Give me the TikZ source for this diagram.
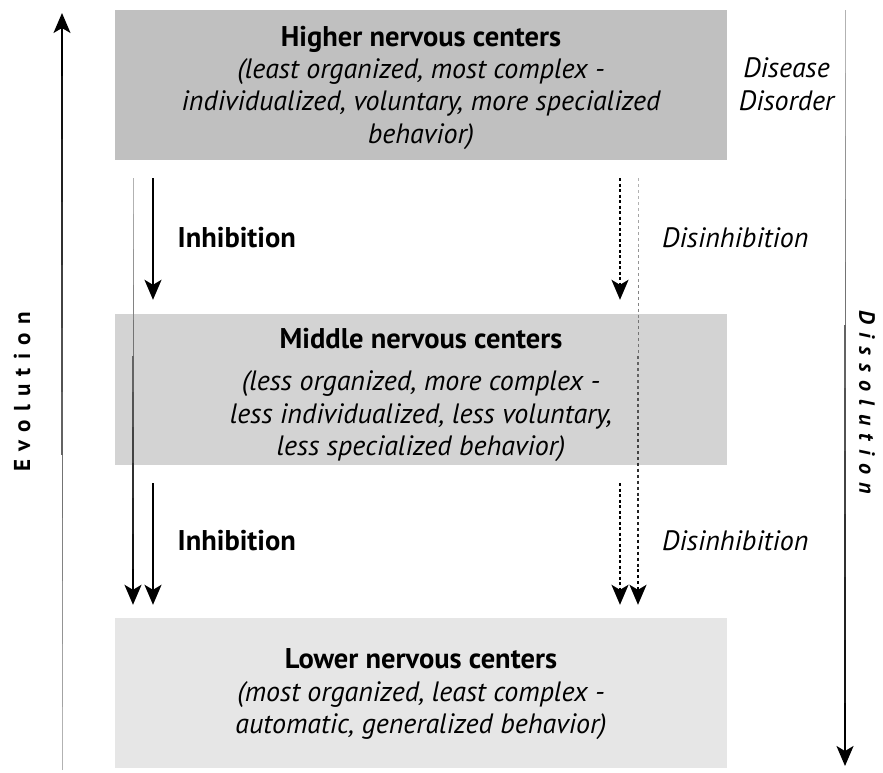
\documentclass[tikz,border=0pt]{standalone}
\usepackage{fontspec}
\setmainfont{PT Sans}
\usetikzlibrary{arrows.meta,calc}
\definecolor{topgray}{HTML}{C0C0C0}
\definecolor{midgray}{HTML}{D3D3D3}
\definecolor{lowgray}{HTML}{E6E6E6}
\newcommand\titlefont{\fontsize{28.5}{32}\selectfont\upshape\bfseries}
\tikzset{
  levelbox/.style={fill=#1, draw=none, minimum width=612pt, minimum height=150pt, inner sep=0pt},
  % anchored at the baseline of the last line
  leveltext/.style={align=center, inner sep=0pt, anchor=base,
    font=\fontsize{28}{32.3}\selectfont\itshape},
  tipped/.style={-{Stealth[length=20pt,width=17pt,inset=5pt]}, line width=2pt},
  dotarrow/.style={tipped, dash pattern=on 3pt off 2.5pt},
  sidelabel/.style={anchor=base west, inner sep=0pt},
  axislabel/.style={inner sep=0pt},
}
% a line that grows darker and wider from #1 to #2 and ends in a tip; #3 = extra options
\newcommand\taperarrow[3]{%
  \foreach \i [evaluate=\i as \c using int(30+6.4*\i),
               evaluate=\i as \w using 0.3+0.155*\i,
               evaluate=\i as \fa using \i/12,
               evaluate=\i as \fb using \i/12+1/12] in {0,...,10}{%
    \draw[line width=\w pt, draw=black!\c, #3]
      ($(#1)!\fa!(#2)$) -- ($(#1)!\fb!(#2)$);
  }%
  \draw[tipped, #3] ($(#1)!0.9167!(#2)$) -- (#2);
}
\begin{document}
\begin{tikzpicture}[x=1pt, y=-1pt]
  \useasboundingbox (0,0) rectangle (883,772);

  % the three levels
  \node[levelbox=topgray] (high) at (421,85) {};
  \node[levelbox=midgray, minimum height=151pt] (mid) at (421,389.5) {};
  \node[levelbox=lowgray] (low) at (421,693) {};

  \node[leveltext] (highT) at (421,143)
    {{\titlefont Higher nervous centers}\\
     (least organized, most complex -\\
     individualized, voluntary, more specialized\\
     behavior)};
  \node[leveltext] (midT) at (421,455.5)
    {{\titlefont Middle nervous centers}\\[10pt]
     (less organized, more complex -\\
     less individualized, less voluntary,\\
     less specialized behavior)};
  \node[leveltext] (lowT) at (421,733.5)
    {{\titlefont Lower nervous centers}\\
     (most organized, least complex -\\
     automatic, generalized behavior)};

  % side labels
  \node[sidelabel, font=\fontsize{28.5}{32}\selectfont\bfseries] (inh1) at (177.5,247) {Inhibition};
  \node[sidelabel, font=\fontsize{28.5}{32}\selectfont\bfseries] (inh2) at (177.5,550.5) {Inhibition};
  \node[sidelabel, font=\fontsize{28}{32}\selectfont\itshape] (dis1) at (662,247) {Disinhibition};
  \node[sidelabel, font=\fontsize{28}{32}\selectfont\itshape] (dis2) at (662,550.5) {Disinhibition};
  \node[align=center, inner sep=0pt, anchor=base, font=\fontsize{28}{33}\selectfont\itshape] (dd) at (786.5,110) {Disease\\Disorder};

  \node[axislabel, rotate=90,
        font=\fontsize{23}{26}\selectfont\bfseries\addfontfeatures{LetterSpace=36}] (evo) at (22,392) {Evolution};
  \node[axislabel, rotate=-90,
        font=\fontsize{22}{26}\selectfont\bfseries\itshape\addfontfeatures{LetterSpace=38}] (diss) at (867,402) {Dissolution};

  % end points of the connectors
  \coordinate (evoS) at (62,770);
  \coordinate (evoE) at (62,13);
  \coordinate (dissS) at (845,10);
  \coordinate (dissE) at (845,766);
  \coordinate (inhS1) at ($(high.south -| 153,0)+(0,18)$);
  \coordinate (inhE1) at ($(mid.north -| 153,0)+(0,-14)$);
  \coordinate (inhS2) at ($(mid.south -| 153,0)+(0,18)$);
  \coordinate (inhE2) at ($(low.north -| 153,0)+(0,-13)$);
  \coordinate (longS) at ($(high.south -| 133,0)+(0,18)$);
  \coordinate (longE) at ($(low.north -| 133,0)+(0,-13)$);
  \coordinate (disS1) at ($(high.south -| 620,0)+(0,18)$);
  \coordinate (disE1) at ($(mid.north -| 620,0)+(0,-14)$);
  \coordinate (disS2) at ($(mid.south -| 620,0)+(0,18)$);
  \coordinate (disE2) at ($(low.north -| 620,0)+(0,-13)$);
  \coordinate (dlongS) at ($(high.south -| 638,0)+(0,18)$);
  \coordinate (dlongE) at ($(low.north -| 638,0)+(0,-13)$);

  % long tapering arrows
  \taperarrow{evoS}{evoE}{}
  \taperarrow{dissS}{dissE}{}
  \taperarrow{longS}{longE}{}
  \taperarrow{dlongS}{dlongE}{dash pattern=on 3pt off 3pt}

  % step arrows
  \draw[tipped] (inhS1) -- (inhE1);
  \draw[tipped] (inhS2) -- (inhE2);
  \draw[dotarrow] (disS1) -- (disE1);
  \draw[dotarrow] (disS2) -- (disE2);
\end{tikzpicture}
\end{document}
